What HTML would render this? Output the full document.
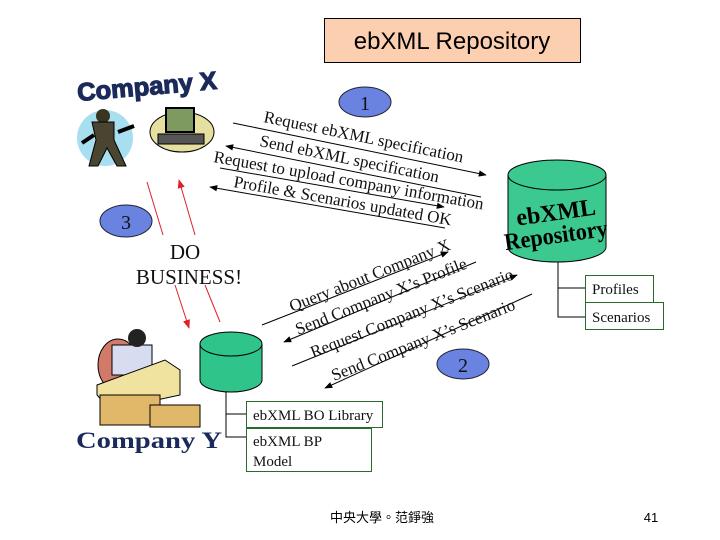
<!DOCTYPE html>
<html><head><meta charset="utf-8"><style>
body{margin:0;background:#fff}
svg{display:block}
.t{font-family:"Liberation Serif",serif;fill:#111}
</style></head><body>
<svg width="720" height="540" viewBox="0 0 720 540" xmlns="http://www.w3.org/2000/svg">
<defs>
<marker id="a" viewBox="0 0 10 10" refX="9" refY="5" markerWidth="8" markerHeight="8" orient="auto"><path d="M0,1 L10,5 L0,9z" fill="#000"/></marker>
<marker id="r" viewBox="0 0 10 10" refX="9" refY="5" markerWidth="9" markerHeight="9" orient="auto"><path d="M0,1 L10,5 L0,9z" fill="#e0202a"/></marker>
</defs>
<rect x="324.5" y="18.5" width="256" height="44" fill="#fbcfb0" stroke="#000"/>
<text x="452" y="49" font-family="Liberation Sans,sans-serif" font-size="24" text-anchor="middle" fill="#000">ebXML Repository</text>

<!-- Company X clipart -->
<text x="78" y="101" font-family="Liberation Sans,sans-serif" font-weight="bold" font-size="25" fill="#1b2a5a" stroke="#1b2a5a" stroke-width="1.2" textLength="140" lengthAdjust="spacingAndGlyphs" transform="rotate(-5 78 101)">Company X</text>
<ellipse cx="105" cy="138" rx="28" ry="28" fill="#a8dff0"/>
<circle cx="103" cy="116" r="7" fill="#3a3520"/>
<path d="M92,122 h22 v18 l12,26 h-9 l-10,-18 -9,18 h-9 l7,-26z" fill="#4a4530" stroke="#000"/>
<path d="M82,143 l12,-8 M118,132 l16,-6" stroke="#000" stroke-width="4"/>
<ellipse cx="182" cy="132" rx="32" ry="20" fill="#e6e0a0" stroke="#000"/>
<rect x="166" y="108" width="28" height="24" fill="#7f9a60" stroke="#000" stroke-width="2"/>
<rect x="158" y="134" width="46" height="10" fill="#555" stroke="#000"/>

<!-- Company Y clipart -->
<ellipse cx="118" cy="365" rx="20" ry="26" fill="#d27a6a" stroke="#000"/>
<rect x="112" y="345" width="40" height="30" fill="#d8dcf0" stroke="#000"/>
<circle cx="137" cy="338" r="9" fill="#222"/>
<path d="M97,385 L165,360 L180,370 L180,395 L110,410 L97,395z" fill="#f0e3a0" stroke="#000"/>
<rect x="100" y="395" width="60" height="30" fill="#e1b86a" stroke="#000"/>
<rect x="150" y="405" width="50" height="22" fill="#e1b86a" stroke="#000"/>
<text x="76" y="448" font-family="Liberation Serif,serif" font-weight="bold" font-size="23" fill="#1b2a5a" textLength="146" lengthAdjust="spacingAndGlyphs">Company Y</text>

<!-- ellipses -->
<ellipse cx="365" cy="102" rx="26" ry="15" fill="#6a82e0" stroke="#223"/>
<text x="365" y="110" class="t" font-size="20" text-anchor="middle">1</text>
<ellipse cx="463" cy="364" rx="26" ry="15" fill="#6a82e0" stroke="#223"/>
<text x="463" y="372" class="t" font-size="20" text-anchor="middle">2</text>
<ellipse cx="126" cy="221" rx="26" ry="16" fill="#6a82e0" stroke="#223"/>
<text x="126" y="229" class="t" font-size="20" text-anchor="middle">3</text>

<!-- repository cylinder -->
<path d="M508,175 v72 a49,15 0 0 0 98,0 v-72" fill="#3cc98f" stroke="#000"/>
<ellipse cx="557" cy="175" rx="49" ry="15" fill="#3cc98f" stroke="#000"/>
<text x="557" y="220" font-family="Liberation Serif,serif" font-weight="bold" font-size="24" text-anchor="middle" fill="#000" transform="rotate(-8 557 220)">ebXML</text>
<text x="557" y="243" font-family="Liberation Serif,serif" font-weight="bold" font-size="24" text-anchor="middle" fill="#000" textLength="104" lengthAdjust="spacingAndGlyphs" transform="rotate(-8 557 243)">Repository</text>
<path d="M558,262 V317 H585 M558,288 H585" fill="none" stroke="#000"/>
<rect x="585.5" y="275.5" width="68" height="27" fill="#fff" stroke="#2a6a2a"/>
<text x="592" y="294" class="t" font-size="15">Profiles</text>
<rect x="585.5" y="302.5" width="78" height="27" fill="#fff" stroke="#2a6a2a"/>
<text x="592" y="322" class="t" font-size="15">Scenarios</text>

<!-- small cylinder -->
<path d="M200,344 v36 a31,12 0 0 0 62,0 v-36" fill="#2fc48a" stroke="#000"/>
<ellipse cx="231" cy="344" rx="31" ry="12" fill="#2fc48a" stroke="#000"/>
<path d="M226,392 V437 H246 M226,414 H246" fill="none" stroke="#000"/>
<rect x="246.5" y="401.5" width="136" height="26" fill="#fff" stroke="#2a6a2a"/>
<text x="253" y="420" class="t" font-size="15">ebXML BO Library</text>
<rect x="246.5" y="428.5" width="125" height="43" fill="#fff" stroke="#2a6a2a"/>
<text x="253" y="446" class="t" font-size="15">ebXML BP</text>
<text x="253" y="466" class="t" font-size="15">Model</text>

<!-- arrows -->
<g stroke="#000" stroke-width="1" fill="none">
<line x1="233" y1="123" x2="486" y2="175" marker-end="url(#a)"/>
<line x1="481" y1="197" x2="226" y2="146" marker-end="url(#a)"/>
<line x1="220" y1="168" x2="444" y2="207" marker-end="url(#a)"/>
<line x1="445" y1="228" x2="210" y2="187" marker-end="url(#a)"/>
<line x1="262" y1="325" x2="448" y2="252" marker-end="url(#a)"/>
<line x1="476" y1="262" x2="284" y2="342" marker-end="url(#a)"/>
<line x1="292" y1="366" x2="517" y2="275" marker-end="url(#a)"/>
<line x1="532" y1="294" x2="325" y2="388" marker-end="url(#a)"/>
</g>
<g class="t" font-size="17">
<text x="263" y="122" transform="rotate(11.5 263 122)">Request ebXML specification</text>
<text x="259" y="146" transform="rotate(11.5 259 146)">Send ebXML specification</text>
<text x="213" y="162" transform="rotate(10 213 162)">Request to upload company information</text>
<text x="233" y="187" transform="rotate(10 233 187)">Profile &amp; Scenarios updated OK</text>
<text x="292" y="312" transform="rotate(-21.5 292 312)">Query about Company X</text>
<text x="298" y="335" transform="rotate(-21.5 298 335)">Send Company X’s Profile</text>
<text x="313" y="358" transform="rotate(-21.5 313 358)">Request Company X’s Scenario</text>
<text x="334" y="381" transform="rotate(-21.5 334 381)">Send Company X’s Scenario</text>
</g>

<!-- red arrows -->
<g stroke="#e0202a" stroke-width="1" fill="none">
<line x1="147" y1="182" x2="163" y2="235"/>
<line x1="175" y1="285" x2="189" y2="328" marker-end="url(#r)"/>
<line x1="195" y1="235" x2="179" y2="180" marker-end="url(#r)"/>
<line x1="205" y1="285" x2="220" y2="322"/>
</g>
<text x="185" y="259" class="t" font-size="21" text-anchor="middle">DO</text>
<text x="189" y="284" class="t" font-size="21" text-anchor="middle">BUSINESS!</text>

<text x="382" y="522" font-family="Liberation Sans,'Noto Sans CJK TC',sans-serif" font-size="13" text-anchor="middle" fill="#000">中央大學。范錚強</text>
<text x="651" y="522" font-family="Liberation Sans,sans-serif" font-size="13" text-anchor="middle" fill="#000">41</text>
</svg>
</body></html>
